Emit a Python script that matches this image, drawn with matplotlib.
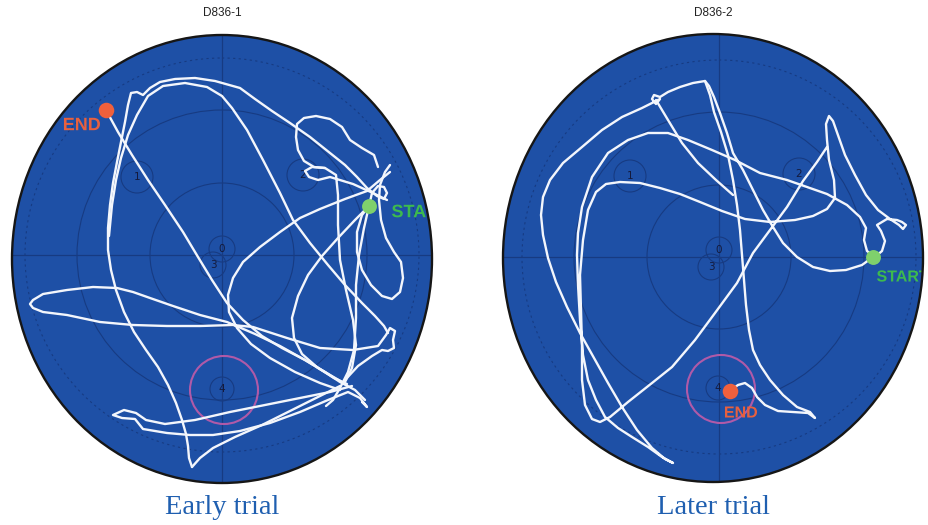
import numpy as np
import matplotlib
matplotlib.use("Agg")
import matplotlib.pyplot as plt
import matplotlib.transforms as mtransforms
from matplotlib.patches import Ellipse, Circle, PathPatch
from matplotlib.textpath import TextPath
from matplotlib.font_manager import FontProperties

W, H = 929, 525

# ---------------- data (tracker camera coordinates, pixels, y down) -------------
panel_titles = ["D836-1", "D836-2"]
panel_captions = ["Early trial", "Later trial"]
pool_centers = [(222, 259), (713, 258)]
pool_radii = [(210, 224), (210, 224)]
grid_centers = [(222, 255), (719, 257)]
ring_radii = [72, 145, 197]

platform_labels = ["0", "1", "2", "3", "4"]
platforms_left = [(222, 249), (137, 177), (303, 175), (213, 265), (222, 389)]
platforms_right = [(719, 250), (630, 176), (799, 174), (711, 267), (718, 388)]
platform_sizes = [13, 16, 16, 13, 12]
target_left = (224, 390)
target_right = (721, 389)
target_radius = 34

start_left, end_left = (369, 206), (106, 110)
start_right, end_right = (873, 257), (730, 391)

left_track = [
    [(192, 467), (189, 458), (188, 446), (186, 434), (182, 420), (176, 403), (168, 385), (158, 367),
     (146, 350), (134, 332), (124, 312), (116, 290), (111, 270), (108, 250), (108, 228), (110, 205),
     (113, 183), (117, 162), (121, 142), (125, 122), (128, 105), (131, 93), (137, 92), (143, 95),
     (150, 88), (160, 82), (175, 79), (195, 78), (215, 81), (240, 88), (255, 99), (272, 111),
     (290, 123), (310, 137), (330, 153), (345, 165), (357, 177), (367, 188), (377, 196), (384, 199),
     (387, 193), (384, 187), (378, 186), (372, 193), (369, 206)],
    [(365, 400), (355, 390), (340, 382), (325, 372), (305, 360), (282, 348), (262, 336), (243, 320),
     (227, 303), (212, 280), (198, 257), (183, 232), (165, 205), (148, 180), (132, 155), (118, 132),
     (106, 110)],
    [(109, 236), (112, 205), (116, 180), (121, 158), (128, 135), (137, 115), (148, 96), (163, 86), (185, 83),
     (207, 87), (222, 96), (232, 108), (247, 130), (263, 160), (280, 193), (293, 220), (310, 243),
     (328, 265), (345, 285), (362, 303), (375, 316), (384, 326), (388, 333)],
    [(345, 380), (358, 366), (372, 356), (382, 350), (388, 351), (394, 348), (393, 340), (395, 331),
     (390, 328), (386, 335), (378, 346), (353, 350), (320, 348), (287, 338), (253, 327), (233, 325),
     (200, 326), (167, 326), (133, 325), (100, 322), (67, 315), (43, 312), (33, 308), (30, 304),
     (33, 300), (43, 294), (67, 290), (93, 287), (117, 288), (133, 292), (150, 298), (173, 306),
     (200, 315), (227, 322), (255, 334), (280, 346), (305, 360), (325, 372), (342, 382)],
    [(390, 165), (385, 172), (380, 185), (379, 200), (381, 220), (386, 238), (394, 252), (401, 262),
     (403, 278), (400, 292), (392, 299), (382, 296), (371, 285), (362, 270), (357, 252), (357, 232),
     (362, 215), (369, 206)],
    [(369, 206), (364, 228), (359, 255), (356, 285), (356, 318), (354, 350), (348, 372), (340, 388),
     (333, 400), (326, 406)],
    [(352, 386), (330, 392), (300, 398), (265, 405), (230, 412), (195, 420), (165, 424), (146, 420),
     (136, 413), (124, 410), (113, 415), (122, 418), (135, 419), (143, 429), (167, 433), (190, 435),
     (213, 435), (240, 431), (270, 423), (300, 412), (328, 400), (348, 392), (360, 398), (367, 407),
     (362, 402)],
    [(192, 467), (200, 458), (213, 448), (235, 437), (262, 425), (292, 410), (320, 396), (340, 386)],
    [(390, 172), (380, 180), (367, 191), (345, 199), (320, 209), (300, 218), (280, 232), (260, 247),
     (243, 262), (233, 278), (228, 295), (229, 312), (237, 328), (251, 344), (270, 358), (295, 372),
     (320, 383), (340, 390)],
    [(369, 206), (355, 220), (338, 238), (322, 256), (308, 275), (298, 296), (292, 318), (294, 338),
     (302, 354), (318, 368), (334, 378), (347, 384)],
    [(387, 200), (373, 193), (353, 184), (330, 177), (318, 180), (309, 177), (305, 171), (312, 167),
     (325, 168), (336, 175), (338, 195), (338, 225), (340, 260), (346, 290), (353, 320), (356, 345),
     (352, 368), (345, 382)],
    [(378, 167), (374, 155), (362, 148), (350, 140), (342, 127), (330, 119), (316, 116), (304, 118),
     (297, 124), (296, 137), (298, 150), (304, 161), (314, 167), (325, 168)],
]

right_track = [
    [(873, 257), (862, 265), (846, 270), (830, 271), (813, 267), (797, 257), (783, 243), (773, 227),
     (763, 210), (753, 190), (743, 170), (733, 153), (727, 133), (720, 113), (714, 97), (709, 86),
     (705, 81), (693, 83), (680, 87), (668, 92), (660, 97), (654, 95), (652, 99), (656, 104),
     (660, 99), (652, 103), (642, 108), (622, 117), (602, 130), (582, 147), (563, 163), (550, 180),
     (543, 197), (541, 215), (543, 235), (548, 258), (556, 282), (567, 307), (580, 333), (594, 358),
     (608, 383), (622, 407), (637, 430), (652, 448), (665, 459), (673, 463), (662, 457), (648, 447),
     (632, 437), (618, 428), (605, 417), (596, 400), (588, 380), (583, 355), (580, 320), (578, 285),
     (577, 255), (578, 233), (582, 207), (592, 177), (608, 153), (628, 140), (648, 133), (668, 133),
     (688, 140), (712, 150), (735, 160), (760, 173), (787, 180), (807, 187), (827, 194), (847, 205),
     (860, 217), (866, 228), (864, 240), (867, 251), (875, 257), (882, 251), (885, 241), (881, 231),
     (877, 225), (887, 219), (897, 220), (902, 222), (906, 225), (903, 229), (899, 225), (890, 219),
     (878, 210), (866, 195), (855, 175), (845, 155), (838, 135), (833, 121), (829, 116), (826, 124),
     (827, 140), (829, 160), (834, 180), (835, 198), (827, 209), (813, 216), (795, 220), (770, 222),
     (745, 219), (722, 211), (700, 202), (680, 194), (660, 188), (640, 183), (620, 182), (606, 184),
     (596, 192), (588, 210), (583, 240), (580, 275), (581, 310), (582, 345), (582, 380), (585, 405),
     (592, 419), (600, 422), (610, 417), (628, 402), (652, 383), (672, 367), (695, 340), (715, 313),
     (737, 283), (753, 253), (770, 230), (787, 207), (803, 181), (817, 162), (827, 147)],
    [(705, 81), (710, 95), (714, 112), (721, 132), (728, 155), (733, 180), (737, 205), (740, 230),
     (742, 255), (744, 280), (746, 305), (749, 330), (753, 350), (760, 365), (770, 380), (783, 395),
     (797, 407), (810, 412), (815, 418), (808, 413), (793, 412), (778, 411), (765, 405), (757, 397),
     (752, 388), (745, 383), (738, 385), (730, 391)],
    [(656, 100), (668, 120), (682, 143), (698, 163), (716, 180), (733, 195)],
]

# ---------------- styling ----------------
POOL = "#1e50a6"
RING = "#173b82"
LABEL = "#141a3c"
TRACK = "#f3f6fc"
TARGET = "#b05aa8"
START_C = "#7fd06c"
START_T = "#3dba4e"
END_C = "#f0603c"
END_T = "#e8603e"
CAPTION = "#1f5fb0"

BOLD = FontProperties(family="Liberation Sans", weight="bold")

fig = plt.figure(figsize=(W / 100, H / 100), dpi=100)
fig.patch.set_facecolor("white")

panels = [
    dict(track=left_track, plats=platforms_left, target=target_left, start=start_left, end=end_left,
         start_text=(392, 211, 18, "left"), end_text=(100, 124, 18, "right")),
    dict(track=right_track, plats=platforms_right, target=target_right, start=start_right, end=end_right,
         start_text=(877, 276, 16, "left"), end_text=(741, 412, 16, "center")),
]


def label_patch(ax, x, y, text, size_px, align, color, clip):
    tp = TextPath((0, 0), text, size=size_px, prop=BOLD)
    bb = tp.get_extents()
    if align == "left":
        dx = -bb.x0
    elif align == "right":
        dx = -bb.x1
    else:
        dx = -(bb.x0 + bb.x1) / 2
    dy = -(bb.y0 + bb.y1) / 2
    tr = mtransforms.Affine2D().translate(dx, dy).scale(1, -1).translate(x, y) + ax.transData
    pp = PathPatch(tp, transform=tr, facecolor=color, edgecolor="none", zorder=4)
    ax.add_patch(pp)
    pp.set_clip_path(clip)
    return pp


for i, p in enumerate(panels):
    cx, cy = pool_centers[i]
    rx, ry = pool_radii[i]
    ax = fig.add_axes([(cx - rx) / W, 1 - (cy + ry) / H, 2 * rx / W, 2 * ry / H])
    ax.set_xlim(cx - rx, cx + rx)
    ax.set_ylim(cy + ry, cy - ry)
    ax.axis("off")

    pool = Ellipse((cx, cy), 2 * rx, 2 * ry, facecolor=POOL, edgecolor="none", zorder=0)
    ax.add_patch(pool)
    clip = Ellipse((cx, cy), 2 * rx, 2 * ry, facecolor="none", edgecolor="none")
    ax.add_patch(clip)

    gx, gy = grid_centers[i]
    l1, = ax.plot([cx - rx, cx + rx], [gy, gy], color=RING, lw=0.9, zorder=1)
    l2, = ax.plot([gx, gx], [cy - ry, cy + ry], color=RING, lw=0.9, zorder=1)
    l1.set_clip_path(clip)
    l2.set_clip_path(clip)
    for k, r in enumerate(ring_radii):
        ls = "-" if k < 2 else (0, (2, 3))
        ax.add_patch(Circle((gx, gy), r, fill=False, edgecolor=RING, lw=0.8, ls=ls, zorder=1))

    for lab, (px, py), pr in zip(platform_labels, p["plats"], platform_sizes):
        ax.add_patch(Circle((px, py), pr, fill=False, edgecolor=RING, lw=0.8, zorder=1))
        ax.text(px, py, lab, ha="center", va="center", fontsize=7.5, color=LABEL,
                family="DejaVu Sans", zorder=2)
    ax.add_patch(Circle(p["target"], target_radius, fill=False, edgecolor=TARGET, lw=1.5, zorder=2))

    for stroke in p["track"]:
        xs = [q[0] for q in stroke]
        ys = [q[1] for q in stroke]
        ln, = ax.plot(xs, ys, color=TRACK, lw=1.7, solid_joinstyle="round",
                      solid_capstyle="round", zorder=3)
        ln.set_clip_path(clip)

    ax.scatter([p["start"][0]], [p["start"][1]], s=115, color=START_C, zorder=4, linewidths=0)
    ax.scatter([p["end"][0]], [p["end"][1]], s=125, color=END_C, zorder=4, linewidths=0)

    sx, sy, sf, sal = p["start_text"]
    label_patch(ax, sx, sy, "START", sf, sal, START_T, clip)
    ex, ey, ef, eal = p["end_text"]
    label_patch(ax, ex, ey, "END", ef, eal, END_T, clip)

    ax.add_patch(Ellipse((cx, cy), 2 * rx, 2 * ry, facecolor="none", edgecolor="#161616",
                         lw=1.7, zorder=5, clip_on=False))

    ax.text(cx, 13, panel_titles[i], ha="center", va="center", fontsize=8.5,
            family="Liberation Sans", color="#222222", clip_on=False)
    ax.text(cx, 507, panel_captions[i], ha="center", va="center", fontsize=20.5,
            family="Liberation Serif", color=CAPTION, clip_on=False)

fig.savefig("out.png", dpi=100, facecolor="white")
